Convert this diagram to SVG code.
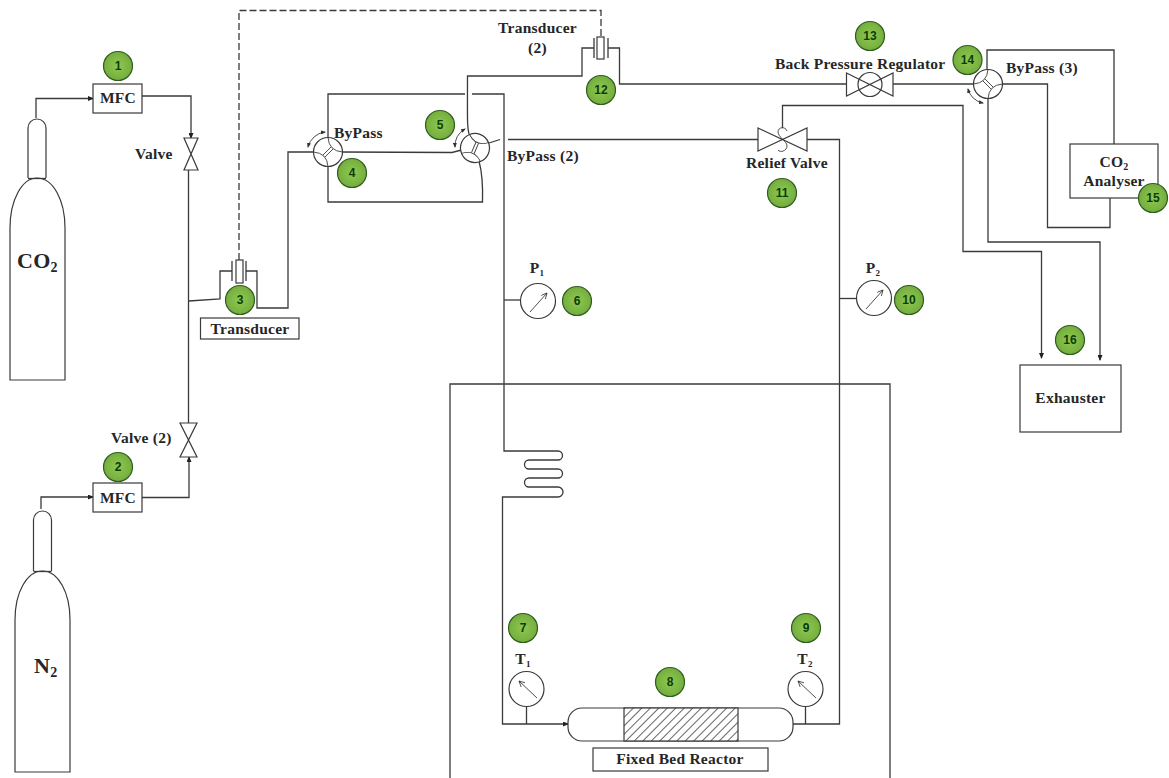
<svg xmlns="http://www.w3.org/2000/svg" width="1169" height="778" viewBox="0 0 1169 778">
<style>
.l{fill:none;stroke:#3a3a3a;stroke-width:1.3}
.f{fill:none;stroke:#3a3a3a;stroke-width:.9}
.s{fill:#fff;stroke:#3a3a3a;stroke-width:1.2}
.t{font-family:"Liberation Serif",serif;font-weight:bold;font-size:15.5px;fill:#262626;letter-spacing:.25px}
.m{text-anchor:middle}
.b{fill:url(#g);stroke:#2f5d1e;stroke-width:1.2}
.n{font-family:"Liberation Sans",sans-serif;font-weight:bold;font-size:12px;fill:#0b3d0b;text-anchor:middle}
</style>
<defs>
<radialGradient id="g"><stop offset="0" stop-color="#8fc94f"/><stop offset="1" stop-color="#74ad3e"/></radialGradient>
<marker id="a" markerWidth="6" markerHeight="5" refX="5" refY="2.500" orient="auto" markerUnits="userSpaceOnUse"><path d="M0 0L6 2.500L0 5z" fill="#222"/></marker>
<marker id="r" markerWidth="5" markerHeight="4" refX="4" refY="2" orient="auto-start-reverse" markerUnits="userSpaceOnUse"><path d="M0 0L5 2L0 4z" fill="#333"/></marker>
<marker id="o" markerWidth="7" markerHeight="6" refX="6" refY="3" orient="auto" markerUnits="userSpaceOnUse"><path d="M0 0L6 3L0 6" fill="none" stroke="#333" stroke-width=".8"/></marker>
<pattern id="h" width="6" height="6" patternUnits="userSpaceOnUse" patternTransform="rotate(45)"><rect width="6" height="6" fill="#fff"/><line x1="0" y1="0" x2="0" y2="6" stroke="#333" stroke-width="1.5"/></pattern>
<g id="byp">
<circle r="14.500" class="s"/>
<path class="f" d="M-14.500 0Q-1 1 0 14.500M0 -14.500Q1 -1 14.500 0"/>
<path class="f" d="M-5 3L3 -5M-3 5L5 -3"/>
</g>
</defs>
<rect width="1169" height="778" fill="#fff"/>

<g id="connectors">
<path class="l" marker-end="url(#a)" d="M36 118V98.500H93"/>
<path class="l" marker-end="url(#a)" d="M142 96H191V138"/>
<path class="l" d="M188.500 170V423"/>
<path class="l" marker-end="url(#a)" d="M41 509V497H93"/>
<path class="l" marker-end="url(#a)" d="M142 497.500H189V457"/>
<path class="l" d="M189 301L220 299V271H232"/>
<path class="l" d="M246 271H257V308H288V152H314"/>
<path class="l" stroke-dasharray="7 3" stroke-width="1" d="M239 260V10.500H601V37"/>
<path class="l" marker-end="url(#a)" d="M328 138V94H465M472 94H504V451H558A4.500 4.500 0 0 1 558 460H529A4.500 4.500 0 0 0 529 469H558A4.500 4.500 0 0 1 558 478H529A4.500 4.500 0 0 0 529 487H558A5 5 0 0 1 558 497H502.500V724H568"/>
<path class="l" d="M328 166V202H482.500C483 185 482 172 479 161"/>
<path class="l" d="M342 152L452 152.500L461.500 150"/>
<path class="l" d="M469 134C467 126 467.500 120 467.500 76H582V48H594"/>
<path class="l" d="M608 48H619.500V84H846"/>
<path class="l" d="M893 84H974"/>
<path class="l" d="M987 70V50H1114V144"/>
<path class="l" d="M1002 84H1047.500V227.500H1110V198"/>
<path class="l" marker-end="url(#a)" d="M988 98V242H1100V360"/>
<path class="l" marker-end="url(#a)" d="M782.500 128V105.500H963V251.500H1041.500V358"/>
<path class="l" d="M489 143L500 139.500"/>
<path class="l" d="M508 139.500H758"/>
<path class="l" d="M807 139.500H839.500V724H793"/>
<path class="l" d="M504 300H521"/>
<path class="l" d="M839.500 298.500H857"/>
<path class="l" d="M526.500 706.500V724"/>
<path class="l" d="M805.500 706.500V724"/>
</g>

<g id="oven"><path class="l" d="M450 778V384H890V778"/></g>

<g id="co2-cylinder">
<path class="s" d="M28 178V128A9 9 0 0 1 46 128V178"/>
<path class="s" d="M10 380V228C10 200 22 178 37 178C53 178 65 200 65 228V380Z"/>
<path class="l" d="M28 178.500H46"/>
<text class="t" x="17" y="268" style="font-size:22px">CO<tspan dy="4" style="font-size:14px">2</tspan></text>
</g>
<g id="n2-cylinder">
<path class="s" d="M33.500 571V520A9 9 0 0 1 51.500 520V571"/>
<path class="s" d="M15 772V620C15 592 27 571 42.500 571C58 571 70 592 70 620V772Z"/>
<path class="l" d="M33.500 571.500H51.500"/>
<text class="t" x="34" y="673" style="font-size:22px">N<tspan dy="4" style="font-size:14px">2</tspan></text>
</g>

<g id="mfc1"><rect class="s" x="93" y="84" width="49" height="29"/><text class="t m" x="118" y="103">MFC</text></g>
<g id="mfc2"><rect class="s" x="93" y="483" width="49" height="29"/><text class="t m" x="118" y="503">MFC</text></g>
<g id="valve1"><path class="s" d="M184 138H198L184 170H198Z"/><text class="t" x="135" y="159">Valve</text></g>
<g id="valve2"><path class="s" d="M180 423H197L180 457H197Z"/><text class="t" x="111" y="443">Valve (2)</text></g>

<g id="transducer1">
<rect class="s" x="236" y="260" width="7" height="23"/>
<path class="l" d="M232 261V281M246 261V281"/>
<rect class="s" x="200.500" y="318" width="98.500" height="21"/>
<text class="t m" x="250" y="334">Transducer</text>
</g>
<g id="transducer2">
<rect class="s" x="597" y="37" width="7" height="22"/>
<path class="l" d="M594 38V58M608 38V58"/>
<text class="t m" x="537.500" y="33">Transducer</text>
<text class="t m" x="537.500" y="53">(2)</text>
</g>

<g id="bypass1"><use href="#byp" transform="translate(328 152)"/><path class="f" marker-start="url(#r)" marker-end="url(#r)" d="M308 147A20 20 0 0 1 325 132"/><text class="t" x="334" y="138">ByPass</text></g>
<g id="bypass2"><use href="#byp" transform="translate(475 148) rotate(-22)"/><path class="f" marker-start="url(#r)" marker-end="url(#r)" d="M455 147A20 20 0 0 1 465 129"/><text class="t" x="507" y="161">ByPass (2)</text></g>
<g id="bypass3"><use href="#byp" transform="translate(988 84) scale(1 -1)"/><path class="f" marker-start="url(#r)" marker-end="url(#r)" d="M968 89A20 20 0 0 0 983 103"/><text class="t" x="1006" y="73">ByPass (3)</text></g>

<g id="p1"><circle class="s" cx="538" cy="301" r="17.500"/><path class="f" marker-end="url(#o)" d="M530 312L547 293"/><text class="t m" x="537" y="273">P<tspan dy="3" style="font-size:9px">1</tspan></text></g>
<g id="p2"><circle class="s" cx="874" cy="298" r="17.500"/><path class="f" marker-end="url(#o)" d="M866 309L883 290"/><text class="t m" x="873" y="273">P<tspan dy="3" style="font-size:9px">2</tspan></text></g>
<g id="t1"><circle class="s" cx="526.500" cy="689" r="17.500"/><path class="f" marker-end="url(#o)" d="M537 698L519 681"/><text class="t m" x="523" y="664">T<tspan dy="3" style="font-size:9px">1</tspan></text></g>
<g id="t2"><circle class="s" cx="805.500" cy="689" r="17.500"/><path class="f" marker-end="url(#o)" d="M816 698L798 681"/><text class="t m" x="805" y="664">T<tspan dy="3" style="font-size:9px">2</tspan></text></g>

<g id="reactor">
<rect class="s" x="568" y="708" width="225" height="33" rx="14"/>
<rect x="624" y="708" width="114" height="33" fill="url(#h)" stroke="#3a3a3a" stroke-width="1.2"/>
<rect class="s" x="593" y="748" width="175" height="23"/>
<text class="t m" x="680" y="764">Fixed Bed Reactor</text>
</g>

<g id="relief-valve">
<path class="s" d="M758 128L807 151V128L758 151Z"/>
<path class="f" d="M787 131C785 126 778 127 778 132C778 137 787 141 787 146C787 151 780 153 778 150"/>
<text class="t" x="746" y="168">Relief Valve</text>
</g>
<g id="back-pressure-regulator">
<path class="s" d="M846.500 73L893 96V73L846.500 96Z"/>
<circle cx="870" cy="84.500" r="12" fill="none" stroke="#3a3a3a" stroke-width="1.2"/>
<text class="t" x="775" y="69">Back Pressure Regulator</text>
</g>
<g id="analyser">
<rect class="s" x="1070" y="144" width="88" height="54"/>
<text class="t m" x="1114" y="167">CO<tspan dy="3" style="font-size:10px">2</tspan></text>
<text class="t m" x="1114" y="186">Analyser</text>
</g>
<g id="exhauster"><rect class="s" x="1020" y="365" width="101" height="67"/><text class="t m" x="1070.500" y="403">Exhauster</text></g>

<g id="badge1"><circle class="b" cx="118" cy="66" r="14.500"/><text class="n" x="118" y="70">1</text></g>
<g id="badge2"><circle class="b" cx="118" cy="467" r="14.500"/><text class="n" x="118" y="471">2</text></g>
<g id="badge3"><circle class="b" cx="240" cy="300" r="14.500"/><text class="n" x="240" y="304">3</text></g>
<g id="badge4"><circle class="b" cx="352" cy="173" r="14.500"/><text class="n" x="352" y="177">4</text></g>
<g id="badge5"><circle class="b" cx="440" cy="125" r="14.500"/><text class="n" x="440" y="129">5</text></g>
<g id="badge6"><circle class="b" cx="577" cy="301" r="14.500"/><text class="n" x="577" y="305">6</text></g>
<g id="badge7"><circle class="b" cx="523" cy="628" r="14.500"/><text class="n" x="523" y="632">7</text></g>
<g id="badge8"><circle class="b" cx="670" cy="682" r="14.500"/><text class="n" x="670" y="686">8</text></g>
<g id="badge9"><circle class="b" cx="806" cy="628" r="14.500"/><text class="n" x="806" y="632">9</text></g>
<g id="badge10"><circle class="b" cx="909" cy="300" r="14.500"/><text class="n" x="909" y="304">10</text></g>
<g id="badge11"><circle class="b" cx="782" cy="193" r="14.500"/><text class="n" x="782" y="197">11</text></g>
<g id="badge12"><circle class="b" cx="601" cy="90" r="14.500"/><text class="n" x="601" y="94">12</text></g>
<g id="badge13"><circle class="b" cx="870" cy="36" r="14.500"/><text class="n" x="870" y="40">13</text></g>
<g id="badge14"><circle class="b" cx="967.500" cy="60" r="14.500"/><text class="n" x="967.500" y="64">14</text></g>
<g id="badge15"><circle class="b" cx="1153" cy="198" r="14.500"/><text class="n" x="1153" y="202">15</text></g>
<g id="badge16"><circle class="b" cx="1070" cy="340" r="14.500"/><text class="n" x="1070" y="344">16</text></g>
</svg>
